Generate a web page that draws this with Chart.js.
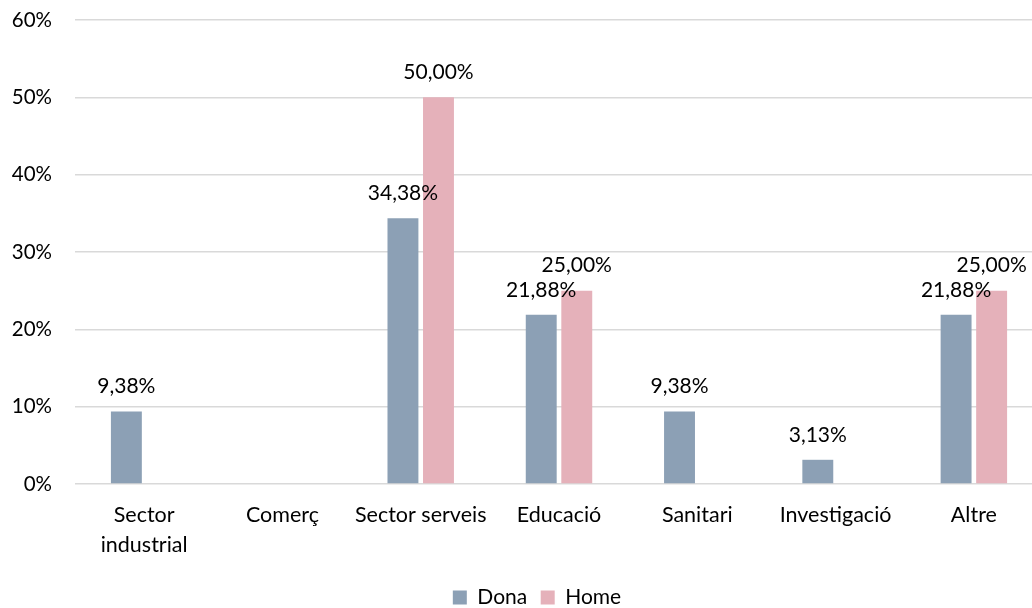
<!DOCTYPE html>
<html>
<head>
<meta charset="utf-8">
<script src="https://cdn.jsdelivr.net/npm/chart.js@4"></script>
<style>
  html, body { margin: 0; padding: 0; background: #fff; overflow: hidden; }
  #wrap { width: 1074px; height: 608px; position: relative; }
</style>
</head>
<body>
<div id="wrap"><canvas id="myChart"></canvas></div>
<script>
var categories = [['Sector', 'industrial'], 'Comerç', 'Sector serveis', 'Educació', 'Sanitari', 'Investigació', 'Altre'];
var dona = [9.38, 0, 34.38, 21.88, 9.38, 3.13, 21.88];
var home = [0, 0, 50.00, 25.00, 0, 0, 25.00];
var yTicks = [0, 10, 20, 30, 40, 50, 60];

Chart.defaults.font.family = 'Lato, "Open Sans", sans-serif';
Chart.defaults.color = '#000';

// labels over the bars, like excel "9,38%"
var barLabels = {
    id: 'barLabels',
    afterDatasetsDraw: function(chart) {
        var ctx = chart.ctx;
        ctx.save();
        ctx.font = '21px Lato, sans-serif';
        ctx.fillStyle = '#000';
        ctx.textAlign = 'center';
        ctx.textBaseline = 'middle';
        chart.data.datasets.forEach(function(ds, i) {
            var meta = chart.getDatasetMeta(i);
            meta.data.forEach(function(bar, j) {
                var v = ds.data[j];
                if (!v) return;
                ctx.fillText(v.toFixed(2).replace('.', ',') + '%', bar.x, bar.y - 25);
            });
        });
        ctx.restore();
    }
};

var ctx = document.getElementById('myChart').getContext('2d');
var chart = new Chart(ctx, {
    type: 'bar',
    data: {
        labels: categories,
        datasets: [{
            label: 'Dona',
            backgroundColor: '#8CA0B5',
            data: dona
        }, {
            label: 'Home',
            backgroundColor: '#E5B1BA',
            data: home
        }]
    },
    options: {
        responsive: true,
        maintainAspectRatio: false,
        animation: false,
        categoryPercentage: 0.514,
        barPercentage: 0.87,
        layout: { padding: { top: 20, right: 0, left: 0, bottom: -10 } },
        scales: {
            x: {
                grid: { display: false, drawTicks: false },
                border: { display: false },
                ticks: { font: { size: 21.5, lineHeight: 1.4 }, padding: 16, maxRotation: 0, autoSkip: false },
                afterFit: function(scale) { scale.height = 89.5; }
            },
            y: {
                min: 0,
                max: 60,
                afterBuildTicks: function(scale) {
                    scale.ticks = yTicks.map(function(v) { return { value: v }; });
                },
                grid: { color: '#D9D9D9', lineWidth: 1.5, drawTicks: false },
                border: { display: false },
                ticks: {
                    font: { size: 20.5 },
                    padding: 23,
                    callback: function(v) { return v + '%'; }
                },
                afterFit: function(scale) {
                    scale.width = 75;
                    // tick padding should not push the plot down
                    scale.paddingTop = 0;
                    scale.paddingBottom = 0;
                }
            },
            // empty axis on the right, the plot runs a bit past the picture edge
            yRight: {
                position: 'right',
                grid: { display: false },
                border: { display: false },
                ticks: { display: false },
                afterFit: function(scale) { scale.width = 31; }
            }
        },
        plugins: {
            legend: {
                position: 'bottom',
                labels: { boxWidth: 14, boxHeight: 14, font: { size: 21 }, padding: 13.5 }
            },
            tooltip: { enabled: false }
        }
    },
    plugins: [barLabels]
});
</script>
</body>
</html>
